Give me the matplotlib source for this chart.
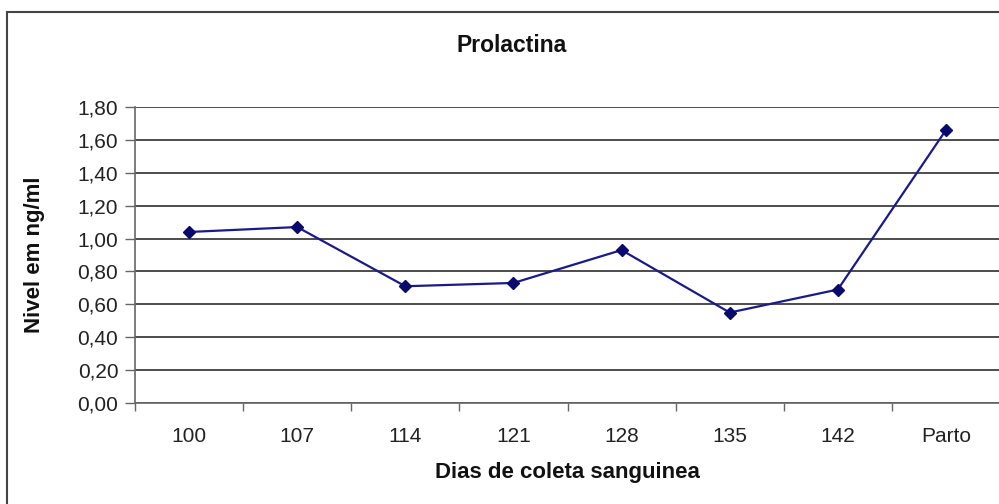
import numpy as np
import matplotlib
matplotlib.use("Agg")
import matplotlib.pyplot as plt
from matplotlib.patches import Rectangle

plt.rcParams['font.family'] = ['Liberation Sans', 'DejaVu Sans']

# prolactin levels per sampling day
dias = ['100', '107', '114', '121', '128', '135', '142', 'Parto']
nivel = [1.04, 1.07, 0.71, 0.73, 0.93, 0.55, 0.69, 1.66]
yticks = [0.0, 0.2, 0.4, 0.6, 0.8, 1.0, 1.2, 1.4, 1.6, 1.8]

W, H = 999, 504
fig = plt.figure(figsize=(W / 100, H / 100), dpi=100)

# chart area frame (runs off the right and bottom edge)
fig.patches.append(Rectangle((7 / W, -0.1), 1.2, 1 - 12 / H + 0.1,
                             transform=fig.transFigure, fill=False,
                             edgecolor='#444444', linewidth=1.5))

left, right = 135 / W, 1000 / W
bottom, top = 1 - 403 / H, 1 - 107 / H
ax = fig.add_axes([left, bottom, right - left, top - bottom])

x = np.arange(len(dias))
ax.plot(x, nivel, color='#1a1a8c', linewidth=1.6, marker='D',
        markersize=6.5, markerfacecolor='#0a0a6e', markeredgecolor='#0a0a6e')

ax.set_xlim(-0.5, len(dias) - 0.5)
ax.set_ylim(0, 1.8)
ax.set_yticks(yticks)
ax.set_yticklabels([f'{v:.2f}'.replace('.', ',') for v in yticks])
ax.yaxis.grid(True, color='#2e2e2e', linewidth=1.2)
ax.set_axisbelow(True)

ax.set_xticks(x)
ax.set_xticklabels(dias)
ax.set_xticks(np.arange(len(dias) + 1) - 0.5, minor=True)
ax.tick_params(axis='x', which='major', length=0, pad=17, labelsize=15, colors='#222222')
ax.tick_params(axis='x', which='minor', length=6, width=1, color='#666666')
ax.tick_params(axis='y', length=7, width=1, color='#666666', labelsize=15,
               labelcolor='#222222', pad=5)

for s in ['top', 'right']:
    ax.spines[s].set_visible(False)
ax.spines['left'].set_color('#666666')
ax.spines['bottom'].set_color('#666666')
ax.spines['left'].set_linewidth(1.2)
ax.spines['bottom'].set_linewidth(1.2)

ax.set_xlabel('Dias de coleta sanguinea', fontsize=16, fontweight='bold',
              color='#111111', labelpad=12)
ax.set_ylabel('Nivel em ng/ml', fontsize=16, fontweight='bold', color='#111111',
              labelpad=10)
ax.yaxis.set_label_coords(-(135 - 45) / (1000 - 135), 0.5)

fig.text(512 / W, 1 - 46 / H, 'Prolactina', ha='center', va='center',
         fontsize=16.5, fontweight='bold', color='#111111')

fig.savefig('out.png', dpi=100)
